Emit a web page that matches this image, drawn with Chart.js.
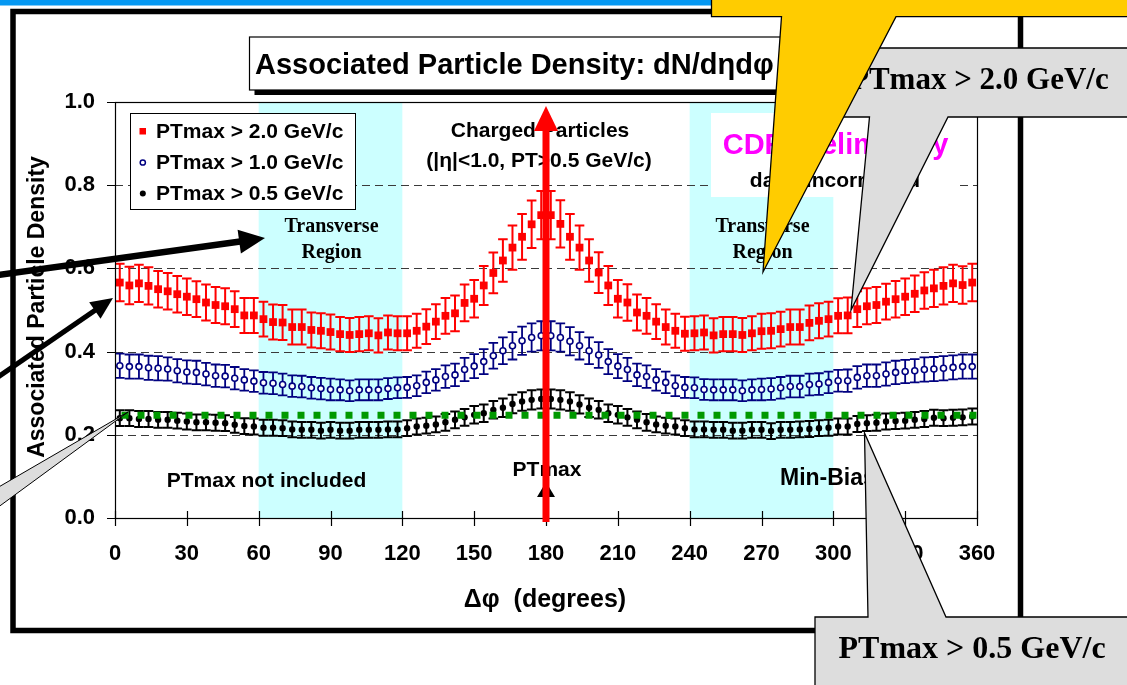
<!DOCTYPE html>
<html>
<head>
<meta charset="utf-8">
<title>Associated Particle Density</title>
<script src="https://cdn.jsdelivr.net/npm/chart.js@4.4.1/dist/chart.umd.min.js"></script>
<style>
  html, body { margin: 0; padding: 0; background: #fff; overflow: hidden; }
  canvas { display: block; }
</style>
</head>
<body>
<canvas id="c" width="1127" height="685"></canvas>
<script>
// Δφ bin centres (degrees)
const dphi = [2,6,10,14,18,22,26,30,34,38,42,46,50,54,58,62,66,70,74,78,82,86,90,
  94,98,102,106,110,114,118,122,126,130,134,138,142,146,150,154,158,162,166,170,174,178,
  182,186,190,194,198,202,206,210,214,218,222,226,230,234,238,242,246,250,254,258,262,266,270,
  274,278,282,286,290,294,298,302,306,310,314,318,322,326,330,334,338,342,346,350,354,358];

// PTmax > 2.0 GeV/c
const ptmax20 = [0.566,0.559,0.564,0.558,0.550,0.545,0.538,0.532,0.526,0.518,0.512,0.509,0.502,0.487,0.487,0.478,0.471,0.470,0.459,0.459,0.452,0.450,0.447,
  0.442,0.440,0.442,0.444,0.439,0.446,0.444,0.444,0.450,0.460,0.472,0.486,0.492,0.517,0.527,0.559,0.589,0.619,0.650,0.676,0.706,0.728,
  0.728,0.707,0.676,0.650,0.619,0.590,0.559,0.527,0.518,0.494,0.486,0.472,0.459,0.450,0.443,0.444,0.446,0.439,0.442,0.442,0.440,0.444,0.449,
  0.450,0.454,0.459,0.459,0.469,0.474,0.478,0.486,0.487,0.502,0.509,0.512,0.520,0.526,0.532,0.539,0.547,0.552,0.558,0.564,0.560,0.566];
const ptmax20Err = [0.045,0.045,0.045,0.045,0.044,0.044,0.044,0.044,0.043,0.043,0.043,0.043,0.043,0.042,0.042,0.042,0.042,0.042,0.042,0.042,0.042,0.042,0.042,
  0.041,0.041,0.041,0.041,0.041,0.041,0.041,0.041,0.041,0.042,0.042,0.043,0.043,0.044,0.045,0.047,0.049,0.051,0.053,0.055,0.057,0.058,
  0.058,0.057,0.055,0.053,0.051,0.049,0.047,0.045,0.044,0.043,0.043,0.042,0.042,0.041,0.041,0.041,0.041,0.041,0.041,0.041,0.041,0.041,0.042,
  0.042,0.042,0.042,0.042,0.042,0.042,0.042,0.042,0.043,0.043,0.043,0.043,0.043,0.044,0.044,0.044,0.044,0.045,0.045,0.045,0.045,0.045];

// PTmax > 1.0 GeV/c
const ptmax10 = [0.366,0.364,0.364,0.361,0.360,0.358,0.354,0.351,0.350,0.346,0.342,0.341,0.336,0.332,0.329,0.325,0.324,0.321,0.317,0.316,0.313,0.311,0.309,
  0.308,0.306,0.308,0.308,0.308,0.311,0.313,0.314,0.318,0.326,0.332,0.340,0.344,0.357,0.365,0.376,0.390,0.402,0.414,0.426,0.434,0.438,
  0.438,0.434,0.425,0.414,0.402,0.392,0.376,0.365,0.357,0.344,0.340,0.332,0.326,0.318,0.314,0.313,0.309,0.308,0.308,0.308,0.306,0.308,0.309,
  0.310,0.313,0.316,0.316,0.321,0.322,0.326,0.330,0.330,0.338,0.342,0.342,0.346,0.350,0.352,0.354,0.357,0.358,0.360,0.362,0.364,0.364];
const ptmax10Err = [0.029,0.029,0.029,0.029,0.029,0.028,0.028,0.028,0.028,0.027,0.027,0.027,0.027,0.026,0.026,0.026,0.026,0.026,0.026,0.026,0.026,0.026,0.026,
  0.025,0.025,0.025,0.025,0.025,0.025,0.025,0.025,0.025,0.026,0.026,0.027,0.027,0.028,0.029,0.030,0.031,0.032,0.033,0.034,0.034,0.035,
  0.035,0.034,0.034,0.033,0.032,0.031,0.030,0.029,0.028,0.027,0.027,0.026,0.026,0.025,0.025,0.025,0.025,0.025,0.025,0.025,0.025,0.025,0.026,
  0.026,0.026,0.026,0.026,0.026,0.026,0.026,0.026,0.027,0.027,0.027,0.027,0.028,0.028,0.028,0.028,0.029,0.029,0.029,0.029,0.029,0.029];

// PTmax > 0.5 GeV/c
const ptmax05 = [0.240,0.240,0.238,0.238,0.236,0.236,0.234,0.232,0.230,0.230,0.229,0.228,0.224,0.221,0.220,0.217,0.217,0.216,0.213,0.212,0.212,0.210,0.212,
  0.210,0.210,0.212,0.212,0.212,0.213,0.213,0.216,0.220,0.222,0.225,0.230,0.236,0.242,0.248,0.252,0.260,0.265,0.274,0.280,0.284,0.286,
  0.286,0.284,0.280,0.273,0.265,0.260,0.252,0.248,0.242,0.236,0.230,0.225,0.222,0.220,0.216,0.213,0.213,0.212,0.212,0.210,0.210,0.212,0.212,
  0.209,0.212,0.212,0.213,0.214,0.216,0.217,0.220,0.220,0.226,0.228,0.229,0.232,0.233,0.234,0.236,0.238,0.241,0.240,0.241,0.242,0.244];
const ptmax05Err = [0.019,0.019,0.019,0.019,0.019,0.019,0.019,0.019,0.019,0.019,0.019,0.019,0.019,0.019,0.019,0.019,0.019,0.019,0.019,0.019,0.019,0.019,0.019,
  0.019,0.019,0.019,0.019,0.019,0.019,0.019,0.019,0.019,0.019,0.019,0.020,0.020,0.020,0.021,0.021,0.021,0.022,0.022,0.022,0.023,0.023,
  0.023,0.023,0.022,0.022,0.022,0.021,0.021,0.021,0.020,0.020,0.020,0.019,0.019,0.019,0.019,0.019,0.019,0.019,0.019,0.019,0.019,0.019,0.019,
  0.019,0.019,0.019,0.019,0.019,0.019,0.019,0.019,0.019,0.019,0.019,0.019,0.019,0.019,0.019,0.019,0.019,0.019,0.019,0.019,0.019,0.019];

// Min-Bias level (dotted line)
const minBiasLevel = 0.247;

// Axes
const xTicks = [0,30,60,90,120,150,180,210,240,270,300,330,360];
const yTicks = [0.0,0.2,0.4,0.6,0.8,1.0];
const yTickLabels = ['0.0','0.2','0.4','0.6','0.8','1.0'];
const yGridLines = [0.2,0.4,0.6,0.8];

// Transverse regions (degrees)
const transverseBands = [[60,120],[240,300]];
const leadingDirection = 180;

const seriesLabels = ['PTmax > 2.0 GeV/c','PTmax > 1.0 GeV/c','PTmax > 0.5 GeV/c'];

const SANS = "'Liberation Sans', Arial, sans-serif";
const SERIF = "'Liberation Serif', 'Times New Roman', serif";
const RED = '#ff0000', NAVY = '#000080', GREEN = '#009900', CYAN = '#ccffff';

function pts(vals) { return vals.map((v, i) => ({ x: dphi[i], y: v })); }

function text(ctx, s, x, y, size, opts = {}) {
  ctx.save();
  ctx.font = `${opts.weight || 'bold'} ${size}px ${opts.family || SANS}`;
  ctx.fillStyle = opts.color || '#000';
  ctx.textAlign = opts.align || 'center';
  ctx.textBaseline = opts.baseline || 'middle';
  ctx.fillText(s, x, y);
  ctx.restore();
}

function polygon(ctx, p, fill, stroke, lw) {
  ctx.beginPath();
  ctx.moveTo(p[0][0], p[0][1]);
  for (let i = 1; i < p.length; i++) ctx.lineTo(p[i][0], p[i][1]);
  ctx.closePath();
  if (fill) { ctx.fillStyle = fill; ctx.fill(); }
  if (stroke) { ctx.strokeStyle = stroke; ctx.lineWidth = lw || 1; ctx.stroke(); }
}

function arrow(ctx, x0, y0, x1, y1, lw, headLen, headHalf, color) {
  const dx = x1 - x0, dy = y1 - y0, L = Math.hypot(dx, dy);
  const ux = dx / L, uy = dy / L, nx = -uy, ny = ux;
  const bx = x1 - ux * headLen, by = y1 - uy * headLen;
  ctx.strokeStyle = color; ctx.lineWidth = lw; ctx.lineCap = 'butt';
  ctx.beginPath(); ctx.moveTo(x0, y0); ctx.lineTo(bx + ux, by + uy); ctx.stroke();
  polygon(ctx, [[x1, y1], [bx + nx * headHalf, by + ny * headHalf], [bx - nx * headHalf, by - ny * headHalf]], color);
}

const errorSets = [
  { values: ptmax05, errs: ptmax05Err, color: '#000', lw: 2 },
  { values: ptmax10, errs: ptmax10Err, color: NAVY, lw: 1.8 },
  { values: ptmax20, errs: ptmax20Err, color: RED, lw: 2 }
];

const slidePlugin = {
  id: 'slide',
  beforeDraw(chart) {
    const ctx = chart.ctx;
    ctx.save();
    ctx.fillStyle = '#fff';
    ctx.fillRect(0, 0, chart.width, chart.height);
    // top banner strip
    ctx.fillStyle = '#0598f2';
    ctx.fillRect(0, 0, chart.width, 5.5);
    // slide frame
    ctx.strokeStyle = '#000';
    ctx.lineWidth = 5.5;
    ctx.strokeRect(13, 11.5, 1007.5, 619);
    ctx.restore();
  },
  beforeDatasetsDraw(chart) {
    const ctx = chart.ctx, xs = chart.scales.x, ys = chart.scales.y, a = chart.chartArea;
    ctx.save();
    // transverse region bands
    ctx.fillStyle = CYAN;
    transverseBands.forEach(([lo, hi]) => {
      const l = xs.getPixelForValue(lo), r = xs.getPixelForValue(hi);
      ctx.fillRect(l, a.top, r - l, a.bottom - a.top);
    });
    // dashed grid lines
    ctx.strokeStyle = '#3a3a3a';
    ctx.lineWidth = 1;
    ctx.setLineDash([8, 5]);
    yGridLines.forEach(v => {
      const y = Math.round(ys.getPixelForValue(v)) + 0.5;
      ctx.beginPath(); ctx.moveTo(a.left, y); ctx.lineTo(a.right, y); ctx.stroke();
    });
    ctx.setLineDash([]);
    // label panel
    ctx.fillStyle = '#fff';
    ctx.fillRect(711, 113, 248, 84);
    // error bars
    errorSets.forEach(s => {
      ctx.strokeStyle = s.color;
      ctx.lineWidth = s.lw;
      s.values.forEach((v, i) => {
        const x = xs.getPixelForValue(dphi[i]);
        const yt = ys.getPixelForValue(v + s.errs[i]);
        const yb = ys.getPixelForValue(v - s.errs[i]);
        ctx.beginPath();
        ctx.moveTo(x, yt); ctx.lineTo(x, yb);
        ctx.moveTo(x - 4.8, yt); ctx.lineTo(x + 4.8, yt);
        ctx.moveTo(x - 4.8, yb); ctx.lineTo(x + 4.8, yb);
        ctx.stroke();
      });
    });
    ctx.restore();
  },
  afterDatasetsDraw(chart) {
    const ctx = chart.ctx, xs = chart.scales.x, ys = chart.scales.y, a = chart.chartArea;
    ctx.save();

    // plot border and axes
    ctx.strokeStyle = '#000';
    ctx.lineWidth = 1.2;
    ctx.strokeRect(a.left + 0.5, a.top + 0.5, a.right - a.left, a.bottom - a.top);
    ctx.beginPath();
    xTicks.forEach(v => {
      const x = Math.round(xs.getPixelForValue(v)) + 0.5;
      ctx.moveTo(x, a.bottom - 7); ctx.lineTo(x, a.bottom + 8);
    });
    yTicks.forEach(v => {
      const y = Math.round(ys.getPixelForValue(v)) + 0.5;
      ctx.moveTo(a.left - 8, y); ctx.lineTo(a.left, y);
    });
    ctx.stroke();

    // tick labels
    xTicks.forEach(v => text(ctx, String(v), xs.getPixelForValue(v), 554, 22));
    yTicks.forEach((v, i) => text(ctx, yTickLabels[i], 95, ys.getPixelForValue(v), 22, { align: 'right' }));

    // axis titles
    text(ctx, 'Δφ  (degrees)', 545, 600, 25);
    ctx.save();
    ctx.translate(38, 307);
    ctx.rotate(-Math.PI / 2);
    text(ctx, 'Associated Particle Density', 0, 0, 23);
    ctx.restore();

    // legend
    ctx.fillStyle = '#fff';
    ctx.fillRect(130.5, 113.5, 225, 96);
    ctx.strokeStyle = '#000'; ctx.lineWidth = 1;
    ctx.strokeRect(130.5, 113.5, 225, 96);
    const rows = [131, 162.5, 193.5];
    ctx.fillStyle = RED; ctx.fillRect(139.5, rows[0] - 3, 6.5, 6.5);
    ctx.beginPath(); ctx.arc(142.8, rows[1], 2.6, 0, Math.PI * 2);
    ctx.fillStyle = '#fff'; ctx.fill(); ctx.strokeStyle = NAVY; ctx.lineWidth = 1.5; ctx.stroke();
    ctx.beginPath(); ctx.arc(142.8, rows[2], 3, 0, Math.PI * 2); ctx.fillStyle = '#000'; ctx.fill();
    seriesLabels.forEach((s, i) => text(ctx, s, 156, rows[i] + 1, 21, { align: 'left' }));

    // in-plot annotations
    text(ctx, 'Charged Particles', 540, 131, 21);
    text(ctx, '(|η|<1.0, PT>0.5 GeV/c)', 539, 161, 21);
    const bandCentres = transverseBands.map(b => xs.getPixelForValue((b[0] + b[1]) / 2));
    bandCentres.forEach(cx => {
      text(ctx, 'Transverse', cx + 1, 227, 20, { family: SERIF });
      text(ctx, 'Region', cx + 1, 253, 20, { family: SERIF });
    });
    text(ctx, 'CDF Preliminary', 835.5, 146, 29, { color: '#ff00ff' });
    text(ctx, 'data uncorrected', 835, 181, 21);
    text(ctx, 'PTmax not included', 266.5, 481, 21);
    text(ctx, 'PTmax', 547, 470, 21);
    text(ctx, 'Min-Bias', 780, 479, 23, { align: 'left' });

    // leading-particle marker and direction arrow
    const xl = xs.getPixelForValue(leadingDirection);
    polygon(ctx, [[xl, 482], [xl + 9, 497], [xl - 9, 497]], '#000');
    ctx.strokeStyle = RED; ctx.lineWidth = 7;
    ctx.beginPath(); ctx.moveTo(xl, a.bottom + 4); ctx.lineTo(xl, 129); ctx.stroke();
    polygon(ctx, [[xl, 106], [xl + 12, 131], [xl - 12, 131]], RED);

    // title box with shadow
    ctx.fillStyle = '#000';
    ctx.fillRect(254.5, 42, 550, 53);
    ctx.fillStyle = '#fff';
    ctx.fillRect(249.5, 37, 550, 53);
    ctx.strokeStyle = '#000'; ctx.lineWidth = 1.2;
    ctx.strokeRect(249.5, 37, 550, 53);
    text(ctx, 'Associated Particle Density: dN/dηdφ', 255, 74, 29, { align: 'left', baseline: 'alphabetic' });

    // arrows entering from the left
    arrow(ctx, -2, 275, 265, 238, 6.5, 26, 12, '#000');
    arrow(ctx, -2, 377, 113, 298, 5, 22, 10, '#000');
    // grey pointer from the left
    polygon(ctx, [[-3, 488], [128, 412], [-3, 508]], '#dddddd', '#000', 1);

    // callout: PTmax > 0.5 GeV/c
    polygon(ctx, [[815, 617], [868, 617], [864.5, 433], [946, 617], [1135, 617], [1135, 695], [815, 695]], '#dddddd', '#000', 1.3);
    text(ctx, 'PTmax > 0.5 GeV/c', 838.5, 658, 32, { family: SERIF, align: 'left', baseline: 'alphabetic' });

    // callout: PTmax > 2.0 GeV/c
    polygon(ctx, [[815, 48], [1135, 48], [1135, 117], [948, 117], [851, 310], [869.5, 117], [815, 117]], '#dddddd', '#000', 1.3);
    text(ctx, 'PTmax > 2.0 GeV/c', 850, 89, 31, { family: SERIF, align: 'left', baseline: 'alphabetic' });

    // yellow callout pointing at the transverse region
    polygon(ctx, [[711.5, -3], [1135, -3], [1135, 16.7], [896, 16.7], [763, 272], [781.5, 16.7], [711.5, 16.7]], '#ffcc00', '#000', 1.3);

    ctx.restore();
  }
};

new Chart(document.getElementById('c'), {
  type: 'scatter',
  data: {
    datasets: [
      {
        label: 'Min-Bias',
        data: [{ x: 0, y: minBiasLevel }, { x: 360, y: minBiasLevel }],
        showLine: true,
        borderColor: GREEN,
        borderWidth: 7,
        borderDash: [7, 9],
        borderDashOffset: 9.5,
        borderCapStyle: 'butt',
        pointRadius: 0,
        fill: false
      },
      {
        label: seriesLabels[0],
        data: pts(ptmax20),
        pointStyle: 'rect',
        pointRadius: 5.5,
        backgroundColor: RED,
        borderColor: RED,
        borderWidth: 0
      },
      {
        label: seriesLabels[1],
        data: pts(ptmax10),
        pointStyle: 'circle',
        pointRadius: 3,
        backgroundColor: '#fff',
        borderColor: NAVY,
        borderWidth: 1.6
      },
      {
        label: seriesLabels[2],
        data: pts(ptmax05),
        pointStyle: 'circle',
        pointRadius: 3.2,
        backgroundColor: '#000',
        borderColor: '#000',
        borderWidth: 0
      }
    ]
  },
  options: {
    responsive: false,
    animation: false,
    devicePixelRatio: 1,
    events: [],
    layout: { padding: { left: 115, right: 150, top: 102, bottom: 167 } },
    plugins: { legend: { display: false }, tooltip: { enabled: false } },
    scales: {
      x: { type: 'linear', min: 0, max: 360, display: false },
      y: { type: 'linear', min: 0, max: 1, display: false }
    }
  },
  plugins: [slidePlugin]
});
</script>
</body>
</html>
